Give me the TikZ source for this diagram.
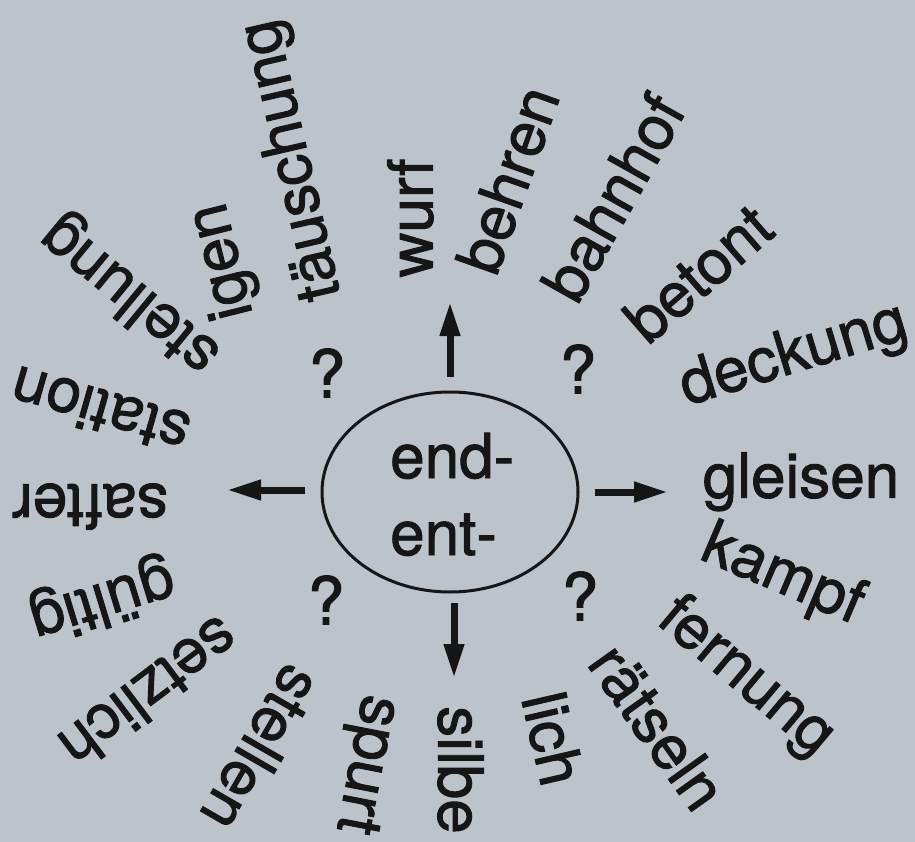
\documentclass[tikz,border=0pt]{standalone}
\usepackage{fontspec}
\setmainfont{TeX Gyre Heros}[FakeBold=1.5]
\usetikzlibrary{arrows.meta,shapes.geometric}
\definecolor{paper}{RGB}{188,195,202}
\definecolor{ink}{RGB}{22,22,22}
\begin{document}
\begin{tikzpicture}[x=1pt,y=-1pt,
  word/.style={font=\fontsize{62}{66}\selectfont, text=ink, inner sep=0pt, anchor=mid},
  qmark/.style={font=\fontsize{66}{70}\selectfont, text=ink, inner sep=0pt},
  pfxtext/.style={font=\fontsize{62}{70}\selectfont, text=ink, inner sep=0pt, anchor=base west},
  ray/.style={draw=ink, line width=7pt, -{Triangle[length=34pt,width=19pt]}},
]
\fill[paper] (0,0) rectangle (915,842);
\useasboundingbox (0,0) rectangle (915,842);

% centre
\node[draw=ink, line width=3pt, ellipse, minimum width=256pt, minimum height=200pt, inner sep=0pt] (core) at (450,492) {};
\node[pfxtext] (pend) at (390,478) {end-};
\node[pfxtext] (pent) at (390,555) {ent-};

% arrows
\coordinate (upS) at (450,377);  \coordinate (upE) at (450,302);
\coordinate (dnS) at (454,603);  \coordinate (dnE) at (454,678);
\coordinate (ltS) at (305,490);  \coordinate (ltE) at (227,490);
\coordinate (rtS) at (595,492);  \coordinate (rtE) at (668,492);
\draw[ray] (upS) -- (upE);
\draw[ray] (dnS) -- (dnE);
\draw[ray] (ltS) -- (ltE);
\draw[ray] (rtS) -- (rtE);

% question marks
\node[qmark] (q1) at (327,373) {?};
\node[qmark] (q2) at (578,369) {?};
\node[qmark] (q3) at (326,600) {?};
\node[qmark] (q4) at (580,596) {?};

% words
\node[word, rotate=90]    (w1)  at (430,218) {wurf};
\node[word, rotate=70.5]  (w2)  at (526,186) {behren};
\node[word, rotate=60.7]  (w3)  at (630,207) {bahnhof};
\node[word, rotate=41]    (w4)  at (711,288) {betont};
\node[word, rotate=17]    (w5)  at (798,369) {deckung};
\node[word, rotate=0]     (w6)  at (801,495) {gleisen};
\node[word, rotate=-23]   (w7)  at (777,589) {kampf};
\node[word, rotate=-40]   (w8)  at (737,688) {fernung};
\node[word, rotate=-54.5] (w9)  at (642,738) {rätseln};
\node[word, rotate=-77]   (w10) at (534,743) {lich};
\node[word, rotate=-90]   (w11) at (441,770) {silbe};
\node[word, rotate=-101]  (w12) at (353,762) {spurt};
\node[word, rotate=-120]  (w13) at (245,739) {stellen};
\node[word, rotate=-143]  (w14) at (138,678) {setzlich};
\node[word, rotate=-163]  (w15) at (98,587)  {gültig};
\node[word, rotate=180]   (w16) at (90,487)  {safter};
\node[word, rotate=164]   (w17) at (105,393) {station};
\node[word, rotate=140.5] (w18) at (139,284) {stellung};
\node[word, rotate=104]   (w19) at (236,258) {igen};
\node[word, rotate=103]   (w20) at (306,157) {täuschung};
\end{tikzpicture}
\end{document}
